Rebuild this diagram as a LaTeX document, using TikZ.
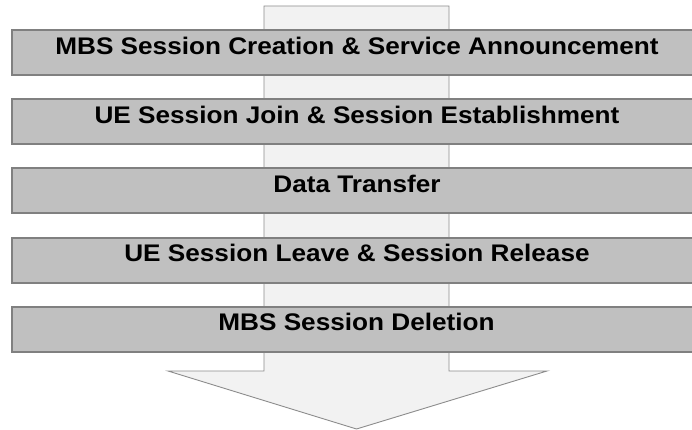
\documentclass[tikz,border=0pt]{standalone}
\usepackage{fontspec}
\setmainfont{Liberation Sans}
\definecolor{barfill}{HTML}{C0C0C0}
\definecolor{barline}{HTML}{808080}
\definecolor{arrfill}{HTML}{F2F2F2}
\definecolor{arrline}{HTML}{8C8C8C}
\newcommand{\lbltext}[1]{\scalebox{1.09}[1]{#1}}
\begin{document}
\begin{tikzpicture}[x=1pt,y=-1pt,
  bar/.style={draw=barline,line width=2pt,fill=barfill,minimum width=694pt,minimum height=45pt,anchor=north west,inner sep=0pt},
  lbl/.style={font=\bfseries\fontsize{24}{26}\selectfont,text=black,inner sep=0pt,anchor=base},
  flow/.style={draw=arrline,line width=0.9pt,fill=arrfill}]
\useasboundingbox (0,0) rectangle (692,430);
\begin{scope}
\clip (0,0) rectangle (692,430);
\draw[flow] (264,6) -- (449,6) -- (449,371) -- (547,371) -- (356.5,429) -- (168,371) -- (264,371) -- cycle;
\node[bar] (b1) at (11,29) {};
\node[bar] (b2) at (11,98.5) {};
\node[bar] (b3) at (11,167) {};
\node[bar] (b4) at (11,236.5) {};
\node[bar] (b5) at (11,305.5) {};
\end{scope}
\node[lbl] (t1) at (357,54.3) {\lbltext{MBS Session Creation \& Service Announcement}};
\node[lbl] (t2) at (357,123.8) {\lbltext{UE Session Join \& Session Establishment}};
\node[lbl] (t3) at (357,192.3) {\lbltext{Data Transfer}};
\node[lbl] (t4) at (357,261.8) {\lbltext{UE Session Leave \& Session Release}};
\node[lbl] (t5) at (356.5,330.5) {\lbltext{MBS Session Deletion}};
\end{tikzpicture}
\end{document}
